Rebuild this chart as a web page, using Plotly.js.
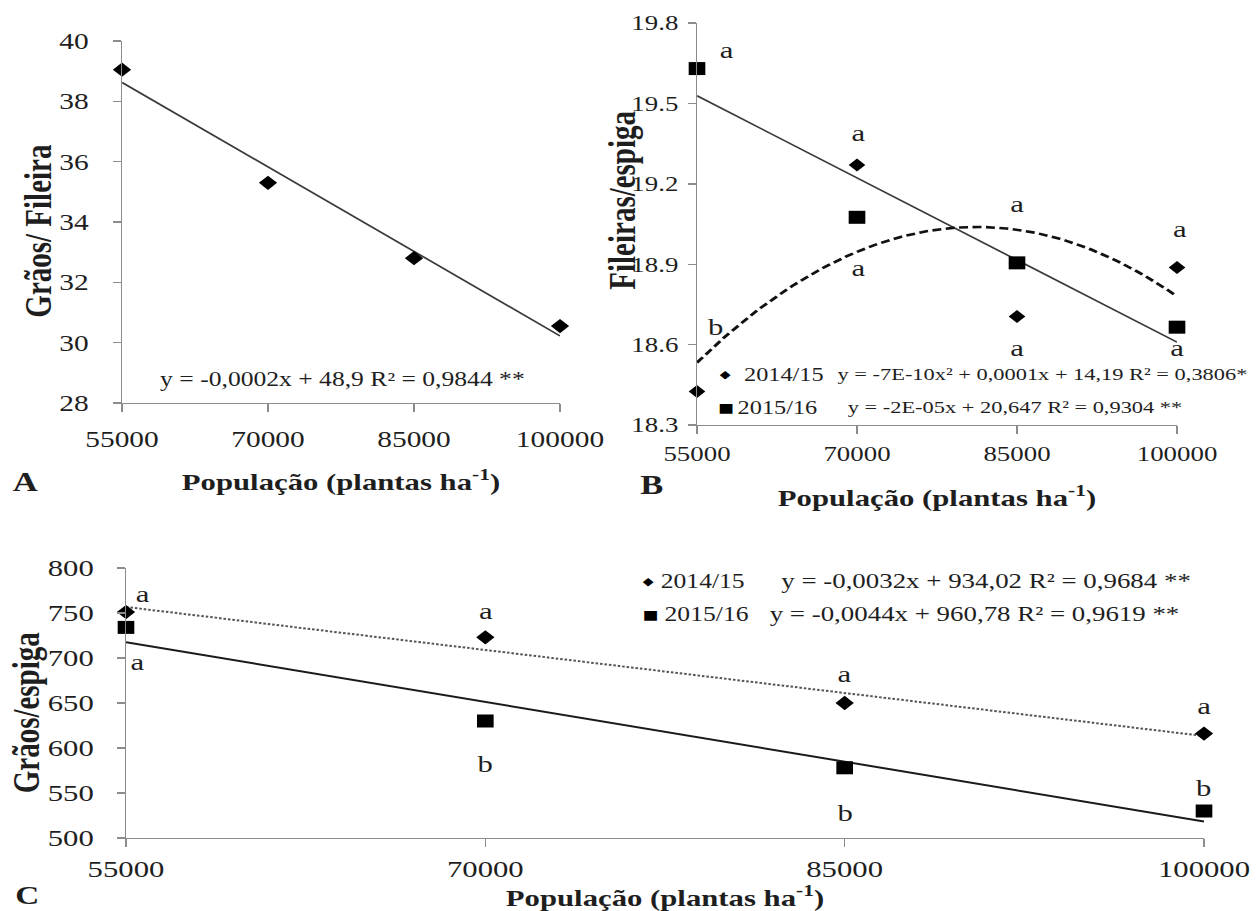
<!DOCTYPE html>
<html><head><meta charset="utf-8">
<script src="https://cdn.plot.ly/plotly-3.0.1.min.js"></script>
<style>
html,body{margin:0;padding:0;background:#fff;overflow:hidden;width:1260px;height:911px}
#chart{width:984px;height:911px;transform:scale(1.28049,1);transform-origin:0 0;}
</style></head><body><div id="chart"></div>
<script>
// ---------------- data ----------------
const populacao = [55000, 70000, 85000, 100000];
const graosFileira = [39.05, 35.3, 32.8, 30.55];
const fileiras1415 = [18.425, 19.27, 18.705, 18.888];
const fileiras1516 = [19.63, 19.075, 18.905, 18.665];
const graosEspiga1415 = [751, 723, 650, 616];
const graosEspiga1516 = [734, 630, 578, 530];
const safras = ['2014/15', '2015/16'];
const letrasB1415 = ['b', 'a', 'a', 'a'];
const letrasB1516 = ['a', 'a', 'a', 'a'];
const letrasC1415 = ['a', 'a', 'a', 'a'];
const letrasC1516 = ['a', 'b', 'b', 'b'];
const equacaoA = 'y = -0,0002x + 48,9 R² = 0,9844 **';
const equacoesB = ['y = -7E-10x² + 0,0001x + 14,19 R² = 0,3806*', 'y = -2E-05x + 20,647 R² = 0,9304 **'];
const equacoesC = ['y = -0,0032x + 934,02 R² = 0,9684 **', 'y = -0,0044x + 960,78 R² = 0,9619 **'];
const tituloX = 'População (plantas ha<sup>-1</sup>)';
const titulosY = ['Grãos/ Fileira', 'Fileiras/espiga', 'Grãos/espiga'];
const paineis = ['A', 'B', 'C'];

// ---------------- helpers ----------------
const W = 984, H = 911, SX = 1260 / W;
const F = 'Liberation Serif';
const TXT = '#1e1e1e';
const AX = '#8c8c8c';
const px = v => v / 1260;          // page x (px) -> paper
const py = v => 1 - v / H;         // page y (px) -> paper
const ix = v => v / SX;            // page px horizontal -> inner px

function polyfit(xs, ys, deg) {
  const m = xs.reduce((a, b) => a + b, 0) / xs.length;
  const s = (Math.max(...xs) - Math.min(...xs)) / 2 || 1;
  const u = xs.map(x => (x - m) / s);
  const n = deg + 1;
  const A = Array.from({length: n}, () => new Array(n + 1).fill(0));
  for (let k = 0; k < u.length; k++) {
    for (let i = 0; i < n; i++) {
      for (let j = 0; j < n; j++) A[i][j] += Math.pow(u[k], i + j);
      A[i][n] += ys[k] * Math.pow(u[k], i);
    }
  }
  for (let i = 0; i < n; i++) {
    let p = i;
    for (let r = i + 1; r < n; r++) if (Math.abs(A[r][i]) > Math.abs(A[p][i])) p = r;
    [A[i], A[p]] = [A[p], A[i]];
    for (let r = 0; r < n; r++) {
      if (r === i) continue;
      const f = A[r][i] / A[i][i];
      for (let c = i; c <= n; c++) A[r][c] -= f * A[i][c];
    }
  }
  const coef = A.map((row, i) => row[n] / row[i]);
  return x => { const t = (x - m) / s; return coef.reduce((acc, c, i) => acc + c * Math.pow(t, i), 0); };
}
function curve(xs, f) {
  const lo = Math.min(...xs), hi = Math.max(...xs), N = 90;
  const X = [], Y = [];
  for (let i = 0; i <= N; i++) { const x = lo + (hi - lo) * i / N; X.push(x); Y.push(f(x)); }
  return {X, Y};
}

// ---------------- traces ----------------
const fA = curve(populacao, polyfit(populacao, graosFileira, 1));
const fB1 = curve(populacao, polyfit(populacao, fileiras1415, 2));
const fB2 = curve(populacao, polyfit(populacao, fileiras1516, 1));
const fC1 = curve(populacao, polyfit(populacao, graosEspiga1415, 1));
const fC2 = curve(populacao, polyfit(populacao, graosEspiga1516, 1));

const dia = sz => ({symbol: 'diamond', size: sz, color: '#000'});
const sq = sz => ({symbol: 'square', size: sz, color: '#000'});

const traces = [
  {x: fA.X, y: fA.Y, xaxis: 'x', yaxis: 'y', mode: 'lines', line: {color: '#3a3a3a', width: 1.6}, cliponaxis: false, showlegend: false, hoverinfo: 'skip'},
  {x: populacao, y: graosFileira, xaxis: 'x', yaxis: 'y', mode: 'markers', marker: dia(11), cliponaxis: false, showlegend: false},

  {x: fB2.X, y: fB2.Y, xaxis: 'x2', yaxis: 'y2', mode: 'lines', line: {color: '#3a3a3a', width: 1.6}, cliponaxis: false, showlegend: false, hoverinfo: 'skip'},
  {x: fB1.X, y: fB1.Y, xaxis: 'x2', yaxis: 'y2', mode: 'lines', line: {color: '#111', width: 2.6, dash: '7px,3.5px'}, cliponaxis: false, showlegend: false, hoverinfo: 'skip'},
  {x: populacao, y: fileiras1415, name: safras[0], xaxis: 'x2', yaxis: 'y2', mode: 'markers', marker: dia(10), cliponaxis: false, showlegend: false},
  {x: populacao, y: fileiras1516, name: safras[1], xaxis: 'x2', yaxis: 'y2', mode: 'markers', marker: sq(13), cliponaxis: false, showlegend: false},

  {x: fC1.X, y: fC1.Y, xaxis: 'x3', yaxis: 'y3', mode: 'lines', line: {color: '#555', width: 2, dash: '2px,1.5px'}, cliponaxis: false, showlegend: false, hoverinfo: 'skip'},
  {x: fC2.X, y: fC2.Y, xaxis: 'x3', yaxis: 'y3', mode: 'lines', line: {color: '#1a1a1a', width: 2}, cliponaxis: false, showlegend: false, hoverinfo: 'skip'},
  {x: populacao, y: graosEspiga1415, name: safras[0], xaxis: 'x3', yaxis: 'y3', mode: 'markers', marker: dia(11), cliponaxis: false, showlegend: false},
  {x: populacao, y: graosEspiga1516, name: safras[1], xaxis: 'x3', yaxis: 'y3', mode: 'markers', marker: sq(13), cliponaxis: false, showlegend: false}
];

// ---------------- axes ----------------
function xAx(domain, anchor, tsize, standoff, tstand) {
  return {domain, anchor, range: [55000, 100000], tickvals: populacao, tickformat: 'd',
    showgrid: false, zeroline: false, showline: true, linecolor: AX, linewidth: 1.4,
    ticks: 'outside', ticklen: 8, tickcolor: AX, tickwidth: 1.2, ticklabelstandoff: standoff,
    tickfont: {family: F, size: tsize, color: TXT}, fixedrange: true,
    title: {text: tituloX, font: {family: F, size: 24, color: TXT, weight: 'bold'}, standoff: tstand}};
}
function yAx(domain, anchor, range, dtick, fmt, tsize, standoff) {
  return {domain, anchor, range, tick0: range[0], dtick, tickformat: fmt,
    showgrid: false, zeroline: false, showline: true, linecolor: AX, linewidth: 1.1,
    ticks: 'outside', ticklen: ix(8), tickcolor: AX, tickwidth: 1.4, ticklabelstandoff: standoff,
    tickfont: {family: F, size: tsize, color: TXT}, fixedrange: true};
}

// ---------------- annotations ----------------
const ann = [];
function letters(xr, yr, ys, labels, shifts, size) {
  ys.forEach((v, i) => {
    const [dx, dy] = shifts[i];
    ann.push({x: populacao[i], y: v, xref: xr, yref: yr, text: labels[i], showarrow: false,
      xshift: ix(dx), yshift: dy + (labels[i] === 'a' ? 2 : 0),
      font: {family: F, size, color: TXT}});
  });
}
letters('x2', 'y2', fileiras1415, letrasB1415, [[19, 65], [1, 30], [0, -34], [3, 36]], 24);
letters('x2', 'y2', fileiras1516, letrasB1516, [[30, 17], [1, -53], [0, 57], [0, -23]], 24);
letters('x3', 'y3', graosEspiga1415, letrasC1415, [[17, 16], [0, 24], [0, 27], [0, 26]], 24);
letters('x3', 'y3', graosEspiga1516, letrasC1516, [[12, -37], [0, -43], [0, -45], [0, 23]], 24);

function pt(xp, yp, text, size, opts) {
  ann.push(Object.assign({x: px(xp), y: py(yp), xref: 'paper', yref: 'paper', text, showarrow: false,
    xanchor: 'left', yanchor: 'middle', font: {family: F, size, color: TXT}}, opts || {}));
}
const bold = sz => ({family: F, size: sz, color: TXT, weight: 'bold'});
// y-axis titles
pt(38, 231, titulosY[0], 29, {xanchor: 'center', textangle: -90, font: bold(29)});
pt(622, 200, titulosY[1], 29, {xanchor: 'center', textangle: -90, font: bold(29)});
pt(26, 712, titulosY[2], 29, {xanchor: 'center', textangle: -90, font: bold(29)});
// panel letters
pt(25, 482, paineis[0], 27, {xanchor: 'center', font: bold(27)});
pt(652, 485, paineis[1], 27, {xanchor: 'center', font: bold(27)});
pt(27, 895, paineis[2], 26, {xanchor: 'center', font: bold(26)});
// equation A
pt(158, 379, equacaoA, 20);
// legend B
pt(726, 375, '◆', 11, {xanchor: 'center', font: {family: 'DejaVu Sans', size: 11, color: '#000'}});
pt(726, 407, '■', 13, {xanchor: 'center', font: {family: 'DejaVu Sans', size: 13, color: '#000'}});
pt(742, 374, safras[0], 19);
pt(735, 407, safras[1], 19);
pt(835, 374, equacoesB[0], 17.5);
pt(845, 407, equacoesB[1], 17.5);
// legend C
pt(648, 581, '◆', 11, {xanchor: 'center', font: {family: 'DejaVu Sans', size: 11, color: '#000'}});
pt(651, 614, '■', 13, {xanchor: 'center', font: {family: 'DejaVu Sans', size: 13, color: '#000'}});
pt(658, 581, safras[0], 20);
pt(662, 614, safras[1], 20);
pt(778, 581, equacoesC[0], 21);
pt(767, 614, equacoesC[1], 21);

const layout = {
  width: W, height: H, autosize: false,
  margin: {l: 0, r: 0, t: 0, b: 0, pad: 0},
  paper_bgcolor: '#fff', plot_bgcolor: '#fff', showlegend: false,
  xaxis: xAx([px(122), px(560)], 'y', 23, 7, 22),
  yaxis: yAx([py(403), py(41)], 'x', [28, 40], 2, 'd', 23, 14),
  xaxis2: xAx([px(697), px(1177)], 'y2', 21, 1, 24),
  yaxis2: yAx([py(425), py(23)], 'x2', [18.3, 19.8], 0.3, '.1f', 21, 3),
  xaxis3: xAx([px(126), px(1204)], 'y3', 24, 1, 10),
  yaxis3: yAx([py(838), py(568)], 'x3', [500, 800], 50, 'd', 24, 13),
  annotations: ann
};

Plotly.newPlot('chart', traces, layout, {staticPlot: true, displayModeBar: false});
</script></body></html>
